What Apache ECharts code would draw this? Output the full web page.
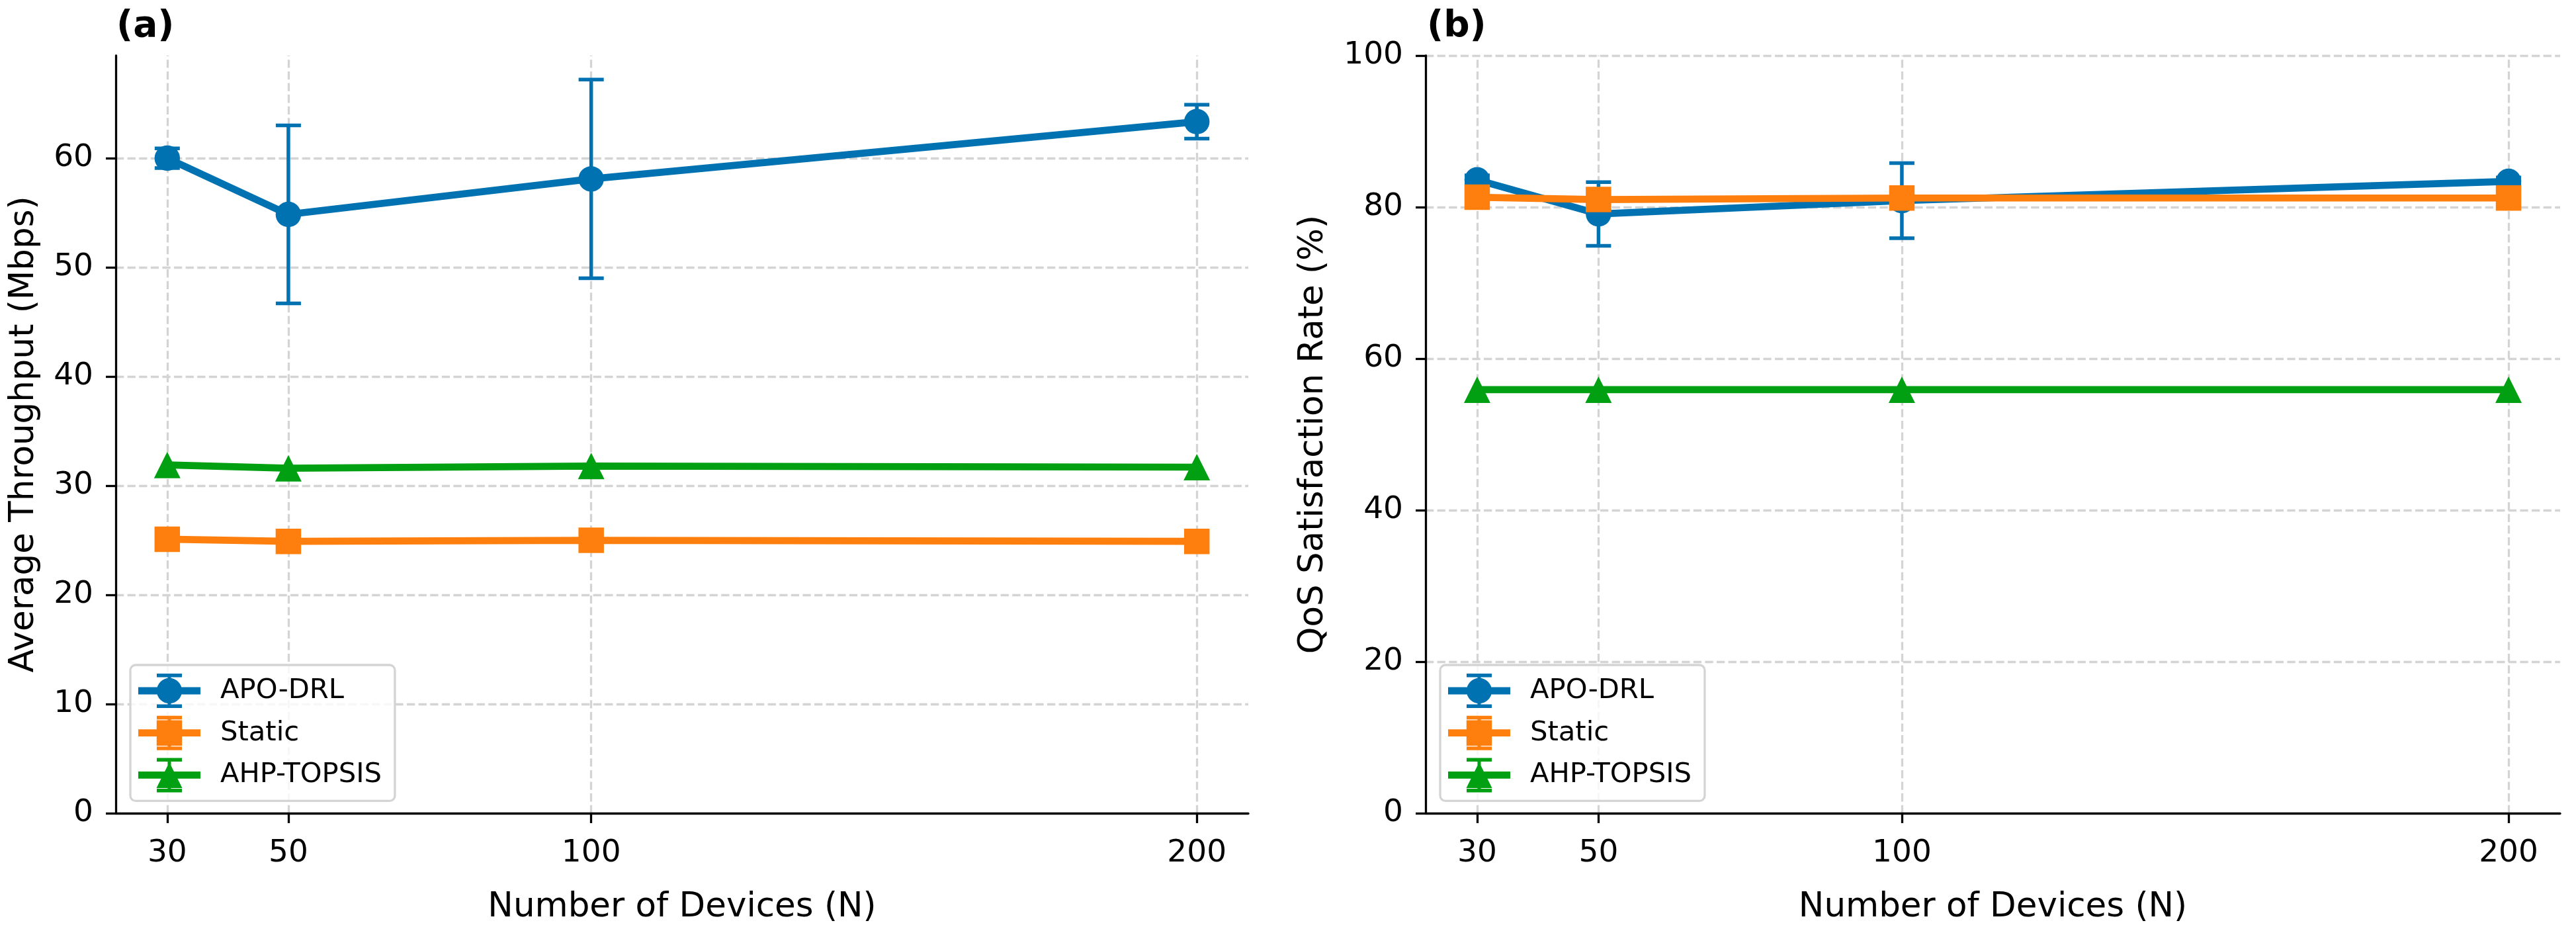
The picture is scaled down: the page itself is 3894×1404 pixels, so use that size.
<!DOCTYPE html>
<html>
<head>
<meta charset="utf-8">
<script src="https://cdn.jsdelivr.net/npm/echarts@6/dist/echarts.min.js"></script>
<style>
  html, body { margin: 0; padding: 0; background: #fff; }
  #chart { width: 3894px; height: 1404px; }
</style>
</head>
<body>
<div id="chart"></div>
<script>
// data
const devices = [30, 50, 100, 200];
const xTicks = [30, 50, 100, 200];
const yTicksA = [0, 10, 20, 30, 40, 50, 60];
const yTicksB = [0, 20, 40, 60, 80, 100];
const seriesNames = ['APO-DRL', 'Static', 'AHP-TOPSIS'];

// (a) average throughput (Mbps)
const apoThroughput = [60.0, 54.85, 58.1, 63.35];
const apoThroughputStd = [0.9, 8.15, 9.1, 1.55];
const staticThroughput = [25.1, 24.9, 25.0, 24.9];
const ahpThroughput = [31.9, 31.6, 31.8, 31.7];

// (b) QoS satisfaction rate (%)
const apoQos = [83.6, 79.1, 80.85, 83.4];
const apoQosStd = [0.6, 4.2, 4.95, 0.5];
const staticQos = [81.3, 81.0, 81.2, 81.2];
const ahpQos = [55.9, 55.9, 55.9, 55.9];

const FONT = 'DejaVu Sans';
const colors = ['#0072B2', '#FF7F0E', '#00A012'];
const symbols = ['circle', 'rect', 'triangle'];
const symbolSizes = [38.5, 38.5, [40, 40]];

// legend glyphs: line + marker + error bar with caps (94 x 52 box)
const base = 'M0 20.6H94V31.4H0Z M44.5 0H49.5V52H44.5Z M28 0H66V5.5H28Z M28 46.5H66V52H28Z ';
const legendIcons = [
  'path://' + base + 'M27.8 26A19.2 19.2 0 1 1 66.2 26A19.2 19.2 0 1 1 27.8 26Z',
  'path://' + base + 'M27.8 6.8H66.2V45.2H27.8Z',
  'path://' + base + 'M47 6.5L66.5 45.5H27.5Z'
];

const pairs = (ys) => devices.map((x, i) => [x, ys[i]]);
const errPairs = (ys, sd) => devices.map((x, i) => [x, ys[i], sd[i]]);

function errorSeries(idx, data, color, z) {
  return {
    type: 'custom',
    xAxisIndex: idx,
    yAxisIndex: idx,
    z: z,
    silent: true,
    animation: false,
    data: data,
    renderItem: function (params, api) {
      const x = api.value(0), y = api.value(1), e = api.value(2);
      const lo = api.coord([x, y - e]);
      const hi = api.coord([x, y + e]);
      const half = 19;
      const st = { stroke: color, lineWidth: 5.5 };
      return {
        type: 'group',
        children: [
          { type: 'line', shape: { x1: lo[0], y1: lo[1], x2: hi[0], y2: hi[1] }, style: st },
          { type: 'line', shape: { x1: lo[0] - half, y1: lo[1], x2: lo[0] + half, y2: lo[1] }, style: st },
          { type: 'line', shape: { x1: hi[0] - half, y1: hi[1], x2: hi[0] + half, y2: hi[1] }, style: st }
        ]
      };
    }
  };
}

function lineSeries(idx, k, ys, z, yTicks) {
  const s = {
    type: 'line',
    name: seriesNames[k],
    xAxisIndex: idx,
    yAxisIndex: idx,
    data: pairs(ys),
    symbol: symbols[k],
    symbolSize: symbolSizes[k],
    showAllSymbol: true,
    color: colors[k],
    lineStyle: { width: 10.7, color: colors[k] },
    itemStyle: { color: colors[k], borderWidth: 0 },
    emphasis: { disabled: true },
    z: z,
    animation: false
  };
  if (yTicks) {
    // dashed grid at the tick positions
    s.markLine = {
      silent: true,
      z: 1,
      animation: false,
      symbol: ['none', 'none'],
      label: { show: false },
      emphasis: { disabled: true },
      lineStyle: { type: [12.3, 5.3], color: '#d4d4d4', width: 3.3 },
      data: xTicks.map(v => ({ xAxis: v })).concat(yTicks.filter(v => v > 0).map(v => ({ yAxis: v })))
    };
  }
  return s;
}

function xAxisCfg(idx) {
  return {
    gridIndex: idx,
    type: 'value',
    min: 21.5,
    max: 208.5,
    z: 10,
    name: 'Number of Devices (N)',
    nameLocation: 'middle',
    nameGap: 117,
    nameTextStyle: { fontSize: 51.5, color: '#000', fontFamily: FONT },
    axisLine: { show: true, onZero: false, lineStyle: { color: '#000', width: 3.3 } },
    axisTick: { show: true, length: 15, customValues: xTicks, lineStyle: { color: '#000', width: 3.3 } },
    axisLabel: { customValues: xTicks, fontSize: 47, color: '#000', fontFamily: FONT, margin: 37 },
    splitLine: { show: false }
  };
}

function yAxisCfg(idx, max, ticks, name, gap) {
  return {
    gridIndex: idx,
    type: 'value',
    min: 0,
    max: max,
    z: 10,
    name: name,
    nameLocation: 'middle',
    nameGap: gap,
    nameTextStyle: { fontSize: 51.5, color: '#000', fontFamily: FONT },
    axisLine: { show: true, onZero: false, lineStyle: { color: '#000', width: 3.3 } },
    axisTick: { show: true, length: 15, customValues: ticks, lineStyle: { color: '#000', width: 3.3 } },
    axisLabel: { customValues: ticks, fontSize: 47, color: '#000', fontFamily: FONT, margin: 34 },
    splitLine: { show: false }
  };
}

function legendCfg(left) {
  return {
    orient: 'vertical',
    left: left,
    top: 1005,
    padding: [13, 20, 13, 12],
    itemWidth: 94,
    itemHeight: 52,
    itemGap: 11.7,
    selectedMode: false,
    backgroundColor: 'rgba(255,255,255,0.8)',
    borderColor: '#d4d4d4',
    borderWidth: 3.3,
    borderRadius: 8,
    z: 20,
    textStyle: { fontSize: 41.7, color: '#000', fontFamily: FONT, padding: [0, 0, 0, 25] },
    data: seriesNames.map((n, i) => ({ name: n, icon: legendIcons[i] }))
  };
}

const titleStyle = { fontSize: 55, fontWeight: 'bold', color: '#000', fontFamily: FONT };

const myChart = echarts.init(document.getElementById('chart'), null, { renderer: 'canvas' });
myChart.setOption({
  backgroundColor: '#fff',
  animation: false,
  title: [
    { text: '(a)', left: 176, top: 13, padding: 0, textStyle: titleStyle },
    { text: '(b)', left: 2157, top: 13, padding: 0, textStyle: titleStyle }
  ],
  legend: [legendCfg(197), legendCfg(2177)],
  grid: [
    { left: 175, top: 84, width: 1712, height: 1145 },
    { left: 2155, top: 84, width: 1715, height: 1145 }
  ],
  xAxis: [xAxisCfg(0), xAxisCfg(1)],
  yAxis: [
    yAxisCfg(0, 69.4, yTicksA, 'Average Throughput (Mbps)', 112),
    yAxisCfg(1, 100, yTicksB, 'QoS Satisfaction Rate (%)', 143)
  ],
  series: [
    errorSeries(0, errPairs(apoThroughput, apoThroughputStd), colors[0], 3),
    lineSeries(0, 0, apoThroughput, 4, yTicksA),
    lineSeries(0, 1, staticThroughput, 5),
    lineSeries(0, 2, ahpThroughput, 6),
    errorSeries(1, errPairs(apoQos, apoQosStd), colors[0], 3),
    lineSeries(1, 0, apoQos, 4, yTicksB),
    lineSeries(1, 1, staticQos, 5),
    lineSeries(1, 2, ahpQos, 6)
  ]
});
</script>
</body>
</html>
